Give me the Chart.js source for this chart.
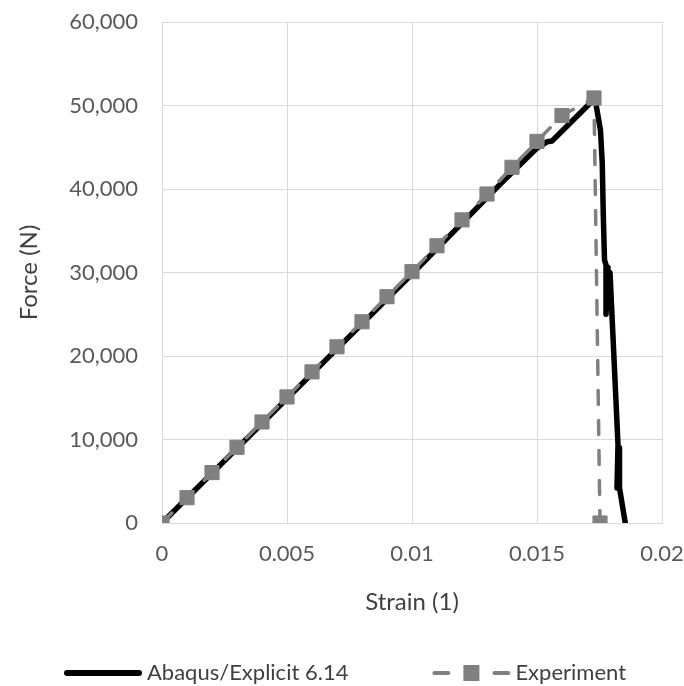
<!DOCTYPE html>
<html><head><meta charset="utf-8">
<script src="https://cdn.jsdelivr.net/npm/chart.js@4.4.1/dist/chart.umd.min.js"></script>
<style>html,body{margin:0;padding:0;background:#fff;}#wrap{width:684px;height:686px;}</style>
</head><body><div id="wrap"><canvas id="c" width="684" height="686"></canvas></div>
<script>
// ---- data ----
const seriesNames = ['Abaqus/Explicit 6.14', 'Experiment'];
const simStrain = [0, 0.005, 0.010, 0.0135, 0.0150, 0.01540, 0.01560, 0.01705, 0.01725, 0.01735, 0.01745, 0.01754, 0.01761, 0.01765, 0.01770, 0.01778, 0.01776, 0.01784, 0.01782, 0.01792, 0.01824, 0.01820, 0.01830, 0.01830, 0.01853];
const simForce  = [0, 14900, 29800, 40500, 44900, 45650, 45750, 50060, 50650, 50300, 48600, 47000, 43100, 37100, 31500, 30700, 25000, 30600, 25800, 30000, 9400, 4200, 9000, 4200, 0];
const expStrain = [0, 0.001, 0.002, 0.003, 0.004, 0.005, 0.006, 0.007, 0.008, 0.009, 0.010, 0.011, 0.012, 0.013, 0.014, 0.015, 0.016, 0.01728, 0.01752];
const expForce  = [0, 3030, 6040, 9060, 12100, 15100, 18100, 21100, 24100, 27100, 30100, 33200, 36300, 39400, 42600, 45700, 48800, 50900, 0];
const xTicks = [0, 0.005, 0.01, 0.015, 0.02];
const xTickLabels = ['0', '0.005', '0.01', '0.015', '0.02'];
const yTicks = [0, 10000, 20000, 30000, 40000, 50000, 60000];
const yTickLabels = ['0', '10,000', '20,000', '30,000', '40,000', '50,000', '60,000'];
const xTitle = 'Strain (1)';
const yTitle = 'Force (N)';

// ---- styles ----
const FONT = 'Lato';
const expColor = '#808080';
const gridColor = '#d9d9d9';
const tickColor = '#595959';
const titleColor = '#404040';

const toPts = (xs, ys) => xs.map((x, i) => ({x: x, y: ys[i]}));

const legendPlugin = {
  id: 'excelLegend',
  afterDraw(chart) {
    const ctx = chart.ctx;
    ctx.save();
    ctx.font = '22px ' + FONT;
    const y = 673;
    const t1 = ctx.measureText(seriesNames[0]).width;
    const t2 = ctx.measureText(seriesNames[1]).width;
    const sw = 78, tg = 5, gap = 84;
    const total = sw + tg + t1 + gap + sw + tg + t2;
    let x = Math.round(345 - total / 2);
    ctx.strokeStyle = '#000';
    ctx.lineWidth = 6;
    ctx.lineCap = 'round';
    ctx.beginPath(); ctx.moveTo(x + 3, y); ctx.lineTo(x + sw - 3, y); ctx.stroke();
    ctx.fillStyle = titleColor;
    ctx.textBaseline = 'middle';
    ctx.textAlign = 'left';
    ctx.fillText(seriesNames[0], x + sw + tg, y);
    x += sw + tg + t1 + gap;
    ctx.strokeStyle = expColor;
    ctx.lineWidth = 4;
    ctx.beginPath(); ctx.moveTo(x + 2, y); ctx.lineTo(x + 16, y); ctx.stroke();
    ctx.beginPath(); ctx.moveTo(x + 62, y); ctx.lineTo(x + 76, y); ctx.stroke();
    ctx.fillStyle = expColor;
    ctx.fillRect(x + 31, y - 8, 16, 16);
    ctx.fillStyle = titleColor;
    ctx.fillText(seriesNames[1], x + sw + tg, y);
    ctx.restore();
  }
};

new Chart(document.getElementById('c'), {
  type: 'line',
  data: {
    datasets: [
      {
        label: seriesNames[0],
        data: toPts(simStrain, simForce),
        borderColor: '#000000',
        backgroundColor: '#000000',
        borderWidth: 5.5,
        borderJoinStyle: 'round',
        borderCapStyle: 'round',
        pointRadius: 0,
        tension: 0,
        order: 2
      },
      {
        label: seriesNames[1],
        data: toPts(expStrain, expForce),
        borderColor: expColor,
        backgroundColor: expColor,
        borderWidth: 3.5,
        borderDash: [14, 16],
        borderCapStyle: 'round',
        pointStyle: 'rect',
        pointRadius: 10,
        pointBorderWidth: 1,
        pointBackgroundColor: expColor,
        pointBorderColor: expColor,
        tension: 0,
        order: 1
      }
    ]
  },
  options: {
    responsive: false,
    animation: false,
    devicePixelRatio: 1,
    layout: {padding: {left: 12, top: 22, right: 22, bottom: 63}},
    plugins: {
      legend: {display: false},
      tooltip: {enabled: false}
    },
    scales: {
      x: {
        type: 'linear',
        min: 0, max: 0.02,
        afterBuildTicks: (s) => { s.ticks = xTicks.map(v => ({value: v})); },
        afterFit: (s) => { s.height = 100; s.paddingLeft = 0; s.paddingRight = 0; },
        ticks: {
          padding: 18,
          color: tickColor,
          font: {family: FONT, size: 22},
          maxRotation: 0,
          callback: (v, i) => xTickLabels[i]
        },
        grid: {color: gridColor, lineWidth: 1, drawTicks: false},
        border: {color: gridColor, width: 1},
        title: {display: true, text: xTitle, color: titleColor, font: {family: FONT, size: 24}, padding: {top: 4, bottom: 6}}
      },
      y: {
        type: 'linear',
        min: 0, max: 60000,
        afterBuildTicks: (s) => { s.ticks = yTicks.map(v => ({value: v})); },
        afterFit: (s) => { s.width = 150; s.paddingTop = 0; s.paddingBottom = 0; },
        ticks: {
          padding: 24,
          color: tickColor,
          font: {family: FONT, size: 22},
          callback: (v, i) => yTickLabels[i]
        },
        grid: {color: gridColor, lineWidth: 1, drawTicks: false},
        border: {color: gridColor, width: 1},
        title: {display: true, text: yTitle, color: titleColor, font: {family: FONT, size: 24}, padding: {top: 3, bottom: 3}}
      }
    }
  },
  plugins: [legendPlugin]
});
</script></body></html>
